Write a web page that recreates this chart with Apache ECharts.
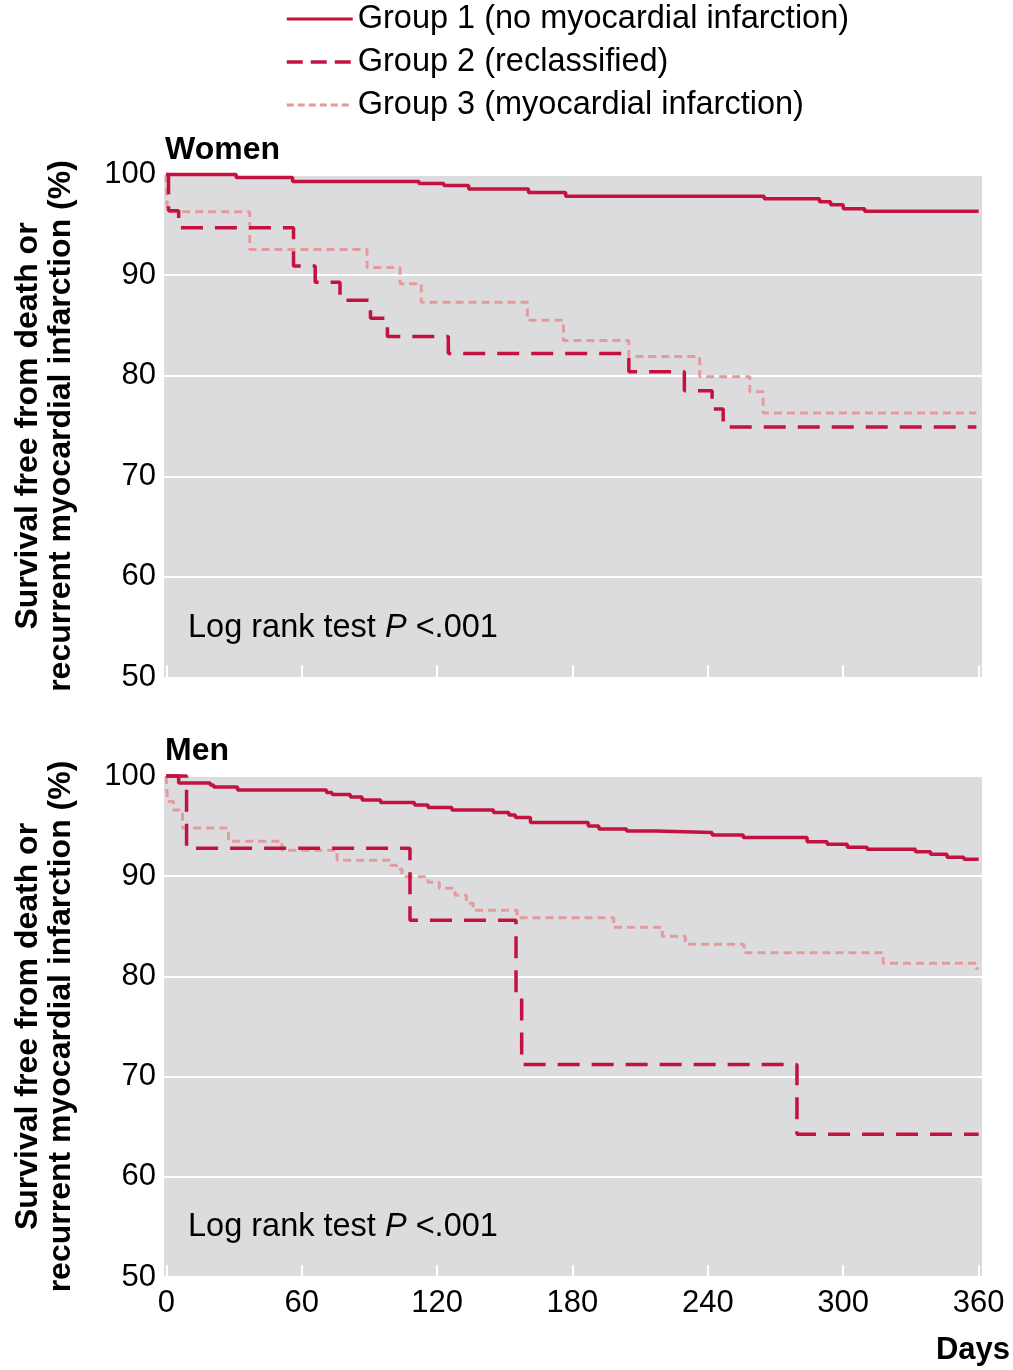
<!DOCTYPE html>
<html>
<head>
<meta charset="utf-8">
<script src="https://cdn.jsdelivr.net/npm/echarts@6/dist/echarts.min.js"></script>
<style>
html,body{margin:0;padding:0;background:#fff;}
#chart{width:1013px;height:1370px;}
</style>
</head>
<body>
<div id="chart"></div>
<script>
// ---- data ----
const seriesNames = ['Group 1 (no myocardial infarction)', 'Group 2 (reclassified)', 'Group 3 (myocardial infarction)'];
const panelTitles = ['Women', 'Men'];
const xTicks = [0, 60, 120, 180, 240, 300, 360];
const yTicks = [50, 60, 70, 80, 90, 100];

// Women
const womenG1Days = [0, 31, 56, 112, 123, 134, 160.5, 177, 265, 289.5, 294.4, 300, 309.5, 360];
const womenG1Surv = [100, 99.7, 99.3, 99.1, 98.9, 98.55, 98.2, 97.85, 97.6, 97.3, 97.0, 96.6, 96.35, 96.35];
const womenG2Days = [0, 1, 5.5, 56.4, 66, 77, 90.5, 98, 125, 205, 229.6, 241.9, 246.8, 359];
const womenG2Surv = [100, 96.4, 94.7, 90.9, 89.3, 87.5, 85.7, 83.9, 82.2, 80.4, 78.5, 76.7, 74.9, 74.9];
const womenG3Days = [0, 0.5, 37, 89, 103.6, 113, 160, 176, 205, 236.4, 258.6, 264.5, 359];
const womenG3Surv = [100, 96.3, 92.55, 90.75, 89.15, 87.3, 85.5, 83.5, 81.9, 79.9, 78.4, 76.3, 76.3];

// Men
const menG1Days = [0, 5.5, 19.5, 21, 31.6, 71, 73.5, 81.6, 86.8, 95, 110, 116, 126.6, 145, 151.8, 154.7, 161.4, 187, 191.7, 204, 216.8, 241.9, 255.7, 284, 292.9, 301.8, 310.6, 332, 338.7, 346, 353.5, 360];
const menG1Surv = [100, 99.3, 99.1, 98.9, 98.6, 98.35, 98.15, 97.9, 97.6, 97.35, 97.1, 96.85, 96.6, 96.35, 96.1, 95.85, 95.35, 95.0, 94.7, 94.5, 94.35, 94.1, 93.85, 93.45, 93.2, 92.9, 92.7, 92.45, 92.2, 91.9, 91.7, 91.7];
const menG2Days = [0, 9, 108, 155, 157.5, 279.5, 360];
const menG2Surv = [100, 92.8, 85.6, 78.4, 71.2, 64.25, 64.25];
const menG3Days = [0, 0.5, 3.2, 7.2, 27.6, 51.3, 75.7, 99.3, 102, 104.5, 116, 121, 128, 133, 136, 155.5, 198.3, 219.8, 230, 256, 317.7, 359, 360];
const menG3Surv = [100, 97.45, 96.6, 94.8, 93.5, 92.6, 91.6, 91.1, 90.7, 89.95, 89.4, 88.8, 88.1, 87.3, 86.6, 85.85, 84.9, 84.0, 83.2, 82.35, 81.3, 80.8, 80.8];

// ---- build ----
function zip(d, s) { return d.map((x, i) => [x, s[i]]); }
const panels = [
  [zip(womenG1Days, womenG1Surv), zip(womenG2Days, womenG2Surv), zip(womenG3Days, womenG3Surv)],
  [zip(menG1Days, menG1Surv), zip(menG2Days, menG2Surv), zip(menG3Days, menG3Surv)]
];

const RED = '#c3123f';
const PINK = '#e59a9b';
const GRAY = '#dcdcde';
const FONT = 'Liberation Sans, Arial, sans-serif';
const lineStyles = [
  { color: RED, width: 3.5, type: 'solid' },
  { color: RED, width: 3.5, type: [22, 12] },
  { color: PINK, width: 3, type: [8, 5] }
];
const legendLineStyles = [
  { color: RED, width: 3, type: 'solid' },
  { color: RED, width: 3.5, type: [16, 8] },
  { color: PINK, width: 3, type: [7, 4] }
];

const grids = [
  { left: 164, right: 31, top: 174.5, bottom: 692.5 },
  { left: 164, right: 31, top: 776, bottom: 93 }
];

const xAxes = [0, 1].map(i => ({
  type: 'value', gridIndex: i, min: -1, max: 361.5,
  axisLine: { show: false },
  splitLine: { show: false },
  axisTick: { show: true, inside: true, length: 12, customValues: xTicks, lineStyle: { color: '#ffffff', width: 2 } },
  axisLabel: { show: i === 1, customValues: xTicks, fontSize: 31, color: '#000', fontFamily: FONT, margin: 11 }
}));

const yAxes = [0, 1].map(i => ({
  type: 'value', gridIndex: i, min: 50, max: 100, interval: 10,
  axisLine: { show: false }, axisTick: { show: false },
  splitLine: { show: true, lineStyle: { color: '#ffffff', width: 2 } },
  axisLabel: { fontSize: 31, color: '#000', fontFamily: FONT, margin: 8 },
  name: '{t|Survival free from death or}\n{t|recurrent myocardial infarction (%)}',
  nameLocation: 'middle', nameRotate: 90, nameGap: 86,
  nameTextStyle: {
    fontSize: 32, fontWeight: 'bold', color: '#000', fontFamily: FONT, lineHeight: 33,
    rich: { t: { fontSize: 32, fontWeight: 'bold', color: '#000', fontFamily: FONT, lineHeight: 33 } }
  }
}));

const series = [];
panels.forEach((p, pi) => {
  p.forEach((data, si) => {
    series.push({
      name: seriesNames[si], type: 'line', step: 'end',
      xAxisIndex: pi, yAxisIndex: pi, data: data,
      showSymbol: false, symbol: 'none', clip: false,
      lineStyle: lineStyles[si], itemStyle: { color: lineStyles[si].color },
      z: 10 - si, silent: true, animation: false
    });
  });
});

const richLog = {
  a: { fontSize: 32.5, fontWeight: 'normal', color: '#000', fontFamily: FONT, lineHeight: 32 },
  b: { fontSize: 32.5, fontWeight: 'normal', fontStyle: 'italic', color: '#000', fontFamily: FONT, lineHeight: 32 }
};

const option = {
  animation: false,
  textStyle: { fontFamily: FONT },
  grid: grids.map(g => Object.assign({ show: true, backgroundColor: GRAY, borderWidth: 0 }, g)),
  xAxis: xAxes,
  yAxis: yAxes,
  legend: {
    orient: 'vertical', left: 285, top: 2, padding: 0, itemWidth: 66, itemHeight: 14, itemGap: 9,
    data: seriesNames.map((n, i) => ({ name: n, lineStyle: legendLineStyles[i], itemStyle: { opacity: 0 } })),
    itemStyle: { opacity: 0 },
    textStyle: { fontSize: 32.5, color: '#000', fontFamily: FONT, lineHeight: 34 },
    selectedMode: false
  },
  title: [
    { text: panelTitles[0], left: 165, top: 134, padding: 0, textStyle: { fontSize: 32, fontWeight: 'bold', color: '#000', fontFamily: FONT, lineHeight: 32 } },
    { text: panelTitles[1], left: 165, top: 735, padding: 0, textStyle: { fontSize: 32, fontWeight: 'bold', color: '#000', fontFamily: FONT, lineHeight: 32 } },
    { text: '{a|Log rank test }{b|P}{a| <.001}', left: 188, top: 612, padding: 0, textStyle: { rich: richLog } },
    { text: '{a|Log rank test }{b|P}{a| <.001}', left: 188, top: 1211, padding: 0, textStyle: { rich: richLog } },
    { text: 'Days', right: 3, top: 1334, padding: 0, textStyle: { fontSize: 31, fontWeight: 'bold', color: '#000', fontFamily: FONT, lineHeight: 32 } }
  ],
  series: series
};

const chart = echarts.init(document.getElementById('chart'), null, { renderer: 'canvas' });
chart.setOption(option);
</script>
</body>
</html>
